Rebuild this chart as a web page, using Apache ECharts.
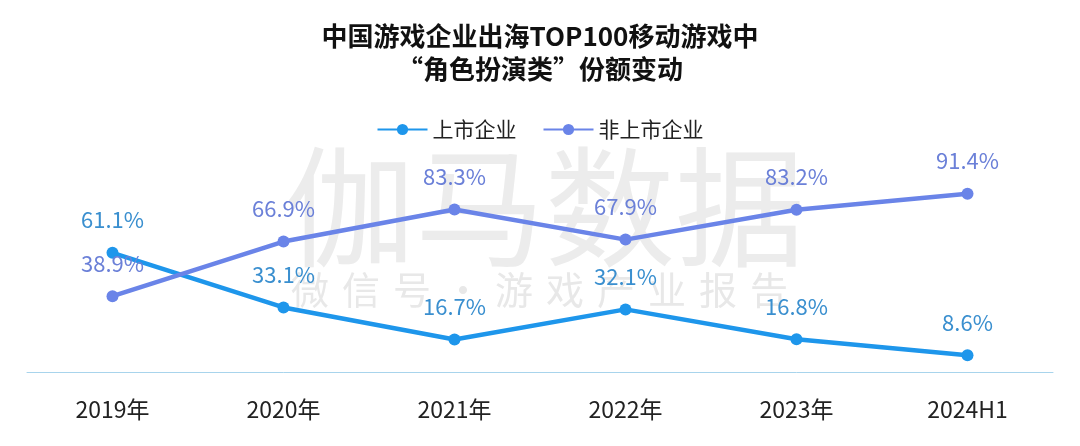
<!DOCTYPE html>
<html>
<head>
<meta charset="utf-8">
<script src="https://cdn.jsdelivr.net/npm/echarts@6/dist/echarts.min.js"></script>
<style>html,body{margin:0;padding:0;background:#fff}#c{width:1080px;height:446px}</style>
</head>
<body>
<div id="c"></div>
<script>
const categories = ['2019年', '2020年', '2021年', '2022年', '2023年', '2024H1'];
const listed = [61.1, 33.1, 16.7, 32.1, 16.8, 8.6];
const unlisted = [38.9, 66.9, 83.3, 67.9, 83.2, 91.4];
const seriesNames = ['上市企业', '非上市企业'];
const watermarkSub = ['微', '信', '号', '·', '游', '戏', '产', '业', '报', '告'];

const FONT = '"Noto Sans CJK SC", "Noto Sans", sans-serif';
const chart = echarts.init(document.getElementById('c'));

const subMarks = watermarkSub.map((ch, i) => ({
  type: 'text', x: 310 + i * 51, y: 290, z: -1, silent: true,
  style: { text: ch, fontFamily: FONT, fontSize: 38, fill: '#e8e8e8', align: 'center', verticalAlign: 'middle' }
}));

chart.setOption({
  backgroundColor: '#fff',
  animation: false,
  title: {
    text: '中国游戏企业出海TOP100移动游戏中\n“角色扮演类”份额变动',
    left: 'center',
    top: 15,
    textStyle: { fontFamily: FONT, fontSize: 26, fontWeight: 'bold', color: '#111', lineHeight: 33 }
  },
  graphic: [
    { type: 'text', x: 545, y: 207, z: -1, silent: true,
      style: { text: '伽马数据', fontFamily: FONT, fontSize: 130, fill: '#ececec', align: 'center', verticalAlign: 'middle' } }
  ].concat(subMarks),
  legend: {
    top: 114,
    left: 'center',
    itemWidth: 50,
    itemHeight: 14,
    itemGap: 26,
    textStyle: { fontFamily: FONT, fontSize: 21, color: '#222' },
    data: seriesNames
  },
  grid: { left: 27, right: 27, top: 177, bottom: 74 },
  xAxis: {
    type: 'category',
    data: categories,
    boundaryGap: true,
    axisLine: { lineStyle: { color: '#a8d4ec', width: 1 } },
    axisTick: { show: false },
    axisLabel: { margin: 26, fontFamily: FONT, fontSize: 23, color: '#222' }
  },
  yAxis: { type: 'value', min: 0, max: 100, show: false, splitLine: { show: false } },
  series: [
    {
      name: seriesNames[0], type: 'line', data: listed,
      symbol: 'circle', symbolSize: 12,
      lineStyle: { width: 4.5, color: '#1e96eb' },
      itemStyle: { color: '#1e96eb' },
      label: { show: true, position: 'top', distance: 16, formatter: p => p.value + '%',
        fontFamily: FONT, fontSize: 22, color: '#3a8fcf' }
    },
    {
      name: seriesNames[1], type: 'line', data: unlisted,
      symbol: 'circle', symbolSize: 12,
      lineStyle: { width: 4.5, color: '#6a84e8' },
      itemStyle: { color: '#6a84e8' },
      label: { show: true, position: 'top', distance: 16, formatter: p => p.value + '%',
        fontFamily: FONT, fontSize: 22, color: '#6b80d8' }
    }
  ]
});
</script>
</body>
</html>
